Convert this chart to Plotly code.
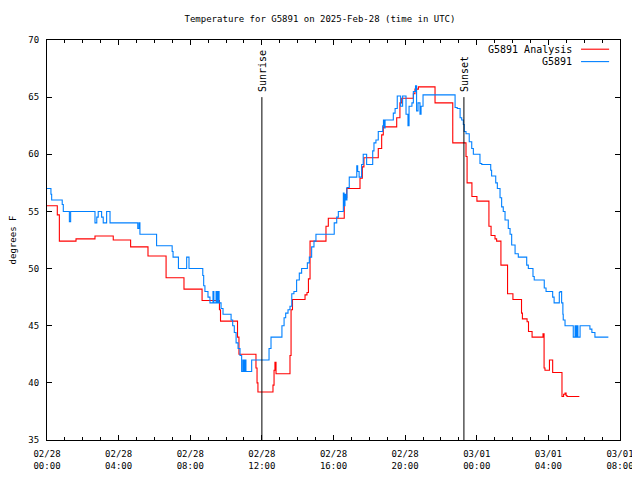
import pandas as pd
import plotly.graph_objects as go

# ---- data (hours after 2025-02-28 00:00 UTC, degrees F) ----
analysis_hours = [0.0, 0.575, 0.69, 1.62, 2.68, 3.70, 4.67, 5.64, 6.65, 7.65, 8.66, 9.63, 9.69,
                  10.64, 10.72, 11.67, 11.73, 11.78, 12.62, 12.68, 12.73, 12.79, 13.57, 13.63, 13.71,
                  14.41, 14.52, 14.60, 14.69, 15.58, 15.71, 16.60, 16.74, 17.48, 17.61, 17.70,
                  18.50, 18.69, 18.78, 19.53, 19.71, 19.81, 20.46, 20.55, 20.74, 21.67, 22.66,
                  23.40, 23.46, 23.73, 24.01, 24.68, 24.80, 25.02, 25.11, 25.35, 25.72, 26.02,
                  26.50, 26.55, 26.81, 26.89, 27.09, 27.70, 27.76, 27.81, 28.06, 28.24, 28.76,
                  28.85, 28.93, 28.99, 29.04, 29.73]
analysis_vals = [55.5, 54.7, 52.4, 52.6, 52.85, 52.5, 51.9, 51.1, 49.2, 48.2, 47.2, 46.4, 45.4,
                 44.0, 42.5, 41.3, 40.0, 39.2, 39.8, 41.1, 41.8, 40.8, 42.4, 46.4, 47.3,
                 47.7, 47.9, 49.1, 52.4, 53.7, 54.4, 56.2, 57.0, 57.9, 58.9, 59.7,
                 60.5, 61.7, 62.4, 63.2, 64.5, 64.9, 65.3, 65.7, 65.9, 64.5, 61.0,
                 59.8, 57.5, 56.3, 55.9, 53.7, 52.9, 52.6, 52.4, 50.3, 47.8, 47.3,
                 46.1, 45.6, 45.35, 44.5, 44.0, 44.3, 41.3, 41.1, 42.0, 40.9, 38.8,
                 39.0, 39.1, 38.9, 38.8, 38.8]

obs_hours = [0.0, 0.22, 0.26, 0.85, 0.91, 1.25, 1.32, 2.68, 2.78, 2.86, 3.05, 3.14, 3.33, 3.52,
             5.07, 5.14, 5.19, 6.12, 6.99, 7.04, 7.34, 7.80, 7.93, 8.70, 8.75, 8.82, 8.99, 9.10,
             9.27, 9.32, 9.44, 9.49, 9.55, 9.61, 9.72, 9.83, 10.28, 10.37, 10.46, 10.56, 10.67,
             10.78, 10.87, 10.94, 11.00, 11.06, 11.11, 11.43, 12.40, 12.51, 13.12, 13.24, 13.33,
             13.46, 13.57, 13.67, 13.79, 13.94, 14.09, 14.22, 14.54, 14.65, 14.78, 14.91, 15.02,
             16.04, 16.18, 16.27, 16.55, 16.59, 16.64, 16.70, 16.75, 16.88, 17.30, 17.35, 17.43,
             17.57, 17.66, 17.85, 18.19, 18.26, 18.37, 18.50, 18.75, 18.79, 18.85, 18.88, 19.34,
             19.44, 19.56, 19.75, 19.86, 20.05, 20.16, 20.22, 20.38, 20.46, 20.58, 20.64, 20.72,
             20.83, 20.89, 21.00, 22.79, 22.91, 23.07, 23.16, 23.25, 23.30, 23.40, 23.58, 23.72,
             23.81, 24.18, 24.28, 24.78, 24.83, 25.06, 25.15, 25.30, 25.39, 25.48, 25.58, 25.76,
             25.86, 25.95, 26.14, 26.32, 26.79, 26.88, 27.14, 27.21, 27.77, 27.87, 28.24, 28.32,
             28.61, 28.65, 28.74, 28.81, 28.83, 28.93, 29.39, 29.49, 29.54, 29.60, 29.65, 29.77,
             30.32, 30.43, 30.60, 31.35]
obs_vals = [57.0, 56.5, 56.0, 55.6, 55.0, 54.1, 55.0, 54.0, 54.5, 55.0, 54.5, 54.0, 55.0, 54.0,
            53.5, 54.0, 53.0, 52.0, 51.5, 51.0, 50.0, 51.0, 50.0, 49.4, 48.5, 48.0, 47.5, 47.0,
            48.0, 47.0, 48.0, 47.0, 48.0, 47.0, 46.5, 46.0, 45.5, 45.0, 44.4, 43.5, 43.0,
            42.4, 41.0, 42.0, 41.0, 42.0, 41.0, 42.0, 43.0, 44.0, 45.0, 45.7, 46.1,
            46.4, 46.7, 47.8, 48.0, 49.0, 49.6, 50.0, 50.5, 51.0, 51.9, 52.4, 53.0,
            54.0, 54.5, 55.0, 56.6, 55.5, 56.5, 56.0, 57.1, 58.0, 59.0, 58.5, 58.0,
            59.1, 60.0, 59.1, 60.3, 61.0, 61.25, 62.0, 62.5, 63.0, 62.3, 63.0, 63.6,
            64.0, 65.1, 64.2, 65.1, 63.5, 62.5, 64.2, 64.5, 65.5, 66.0, 63.8, 64.5,
            63.5, 64.2, 65.2, 64.1, 64.0, 63.2, 63.0, 62.6, 62.0, 61.8, 61.1, 60.5,
            60.0, 59.2, 59.1, 58.6, 58.1, 57.5, 57.0, 56.2, 55.4, 55.0, 54.25, 53.5,
            53.0, 52.06, 51.3, 51.0, 50.3, 50.0, 49.3, 49.0, 48.3, 48.0, 47.5, 47.0,
            47.9, 48.0, 47.0, 46.0, 45.5, 45.0, 44.0, 45.0, 44.0, 45.0, 44.0, 45.0,
            44.7, 44.4, 44.0, 44.0]

start = pd.Timestamp("2025-02-28 00:00")
x_end = pd.Timestamp("2025-03-01 08:00")
sunrise = pd.Timestamp("2025-02-28 12:00")
sunset = pd.Timestamp("2025-02-28 23:17")
y_range = [35, 70]
event_top = 65

def to_time(hours):
    return start + pd.to_timedelta(pd.Series(hours), unit="h")

FONT = "DejaVu Sans Mono"
RED = "#ff0000"
BLUE = "#0080ff"

fig = go.Figure()
fig.add_trace(go.Scatter(x=to_time(analysis_hours), y=analysis_vals, mode="lines",
                         line=dict(color=RED, width=1.1, shape="hv"), name="G5891 Analysis"))
fig.add_trace(go.Scatter(x=to_time(obs_hours), y=obs_vals, mode="lines",
                         line=dict(color=BLUE, width=1.1, shape="hv"), name="G5891"))

for t, label in [(sunrise, "Sunrise"), (sunset, "Sunset")]:
    fig.add_shape(type="line", x0=t, x1=t, y0=y_range[0], y1=event_top, xref="x", yref="y",
                  line=dict(color="black", width=1))
    fig.add_annotation(x=t, y=event_top, xref="x", yref="y", text=label, textangle=-90,
                       showarrow=False, xanchor="center", yanchor="bottom", yshift=3,
                       font=dict(family=FONT, size=10, color="black"))

# legend (gnuplot style: text then line sample)
legend_items = [("G5891 Analysis", RED, 0.977), ("G5891", BLUE, 0.946)]
for text, color, yp in legend_items:
    fig.add_annotation(x=0.9197, y=yp, xref="paper", yref="paper", text=text, showarrow=False,
                       xanchor="right", yanchor="middle", font=dict(family=FONT, size=10, color="black"))
    fig.add_shape(type="line", x0=0.932, x1=0.981, y0=yp, y1=yp, xref="paper", yref="paper",
                  line=dict(color=color, width=1.1))

# the page body adds an 8px offset, so the figure is 8px smaller with reduced left/top margins
fig.update_layout(
    width=632, height=472,
    margin=dict(l=39, r=20, t=32, b=40, autoexpand=False),
    paper_bgcolor="white", plot_bgcolor="white",
    showlegend=False,
    font=dict(family=FONT, size=9, color="black"),
    title=dict(text="Temperature for G5891 on 2025-Feb-28 (time in UTC)", x=(320 - 8) / 632,
               xanchor="center", y=1 - 11 / 472, yanchor="middle",
               font=dict(family=FONT, size=9, color="black")),
)
fig.update_xaxes(range=[start, x_end], type="date", tick0=start, dtick=4 * 3600 * 1000,
                 tickformat="%m/%d<br>%H:%M", ticks="inside", ticklen=5, tickcolor="black",
                 showline=True, linecolor="black", linewidth=1, mirror="ticks", showgrid=False,
                 zeroline=False, automargin=False, ticklabelstandoff=5,
                 minor=dict(dtick=3600 * 1000, ticks="inside", ticklen=3, tickcolor="black", showgrid=False))
fig.update_yaxes(range=y_range, dtick=5, tick0=35, ticks="inside", ticklen=5, tickcolor="black",
                 showline=True, linecolor="black", linewidth=1, mirror="ticks", showgrid=False,
                 zeroline=False, ticklabelstandoff=5, automargin=False,
                 title=dict(text="degrees F", standoff=14, font=dict(family=FONT, size=9)))

fig.write_html("out.html", post_script="document.body.style.overflow='hidden';")
